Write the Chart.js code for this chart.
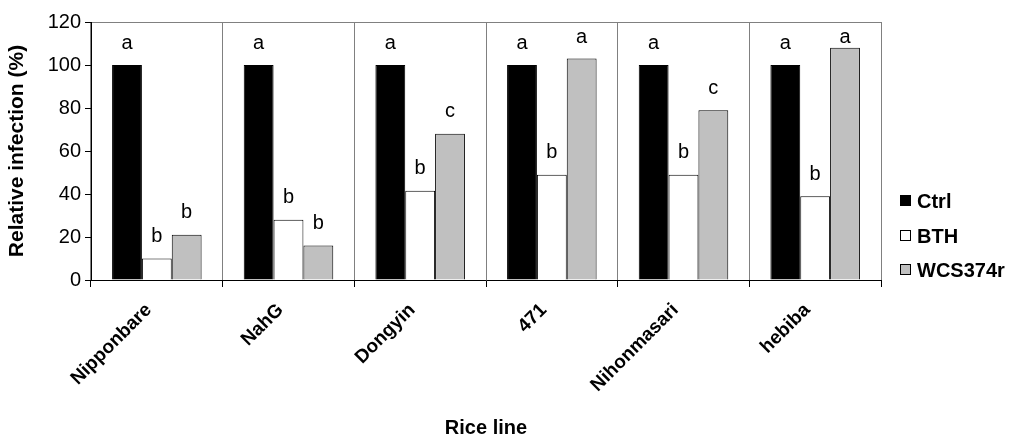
<!DOCTYPE html>
<html>
<head>
<meta charset="utf-8">
<script src="https://cdn.jsdelivr.net/npm/chart.js@4/dist/chart.umd.min.js"></script>
<style>
  html, body { margin: 0; padding: 0; background: #fff; }
  #wrap { width: 1010px; height: 438px; }
</style>
</head>
<body>
<div id="wrap"><canvas id="myChart" width="1010" height="438"></canvas></div>
<script>
// data
const riceLines = ["Nipponbare", "NahG", "Dongyin", "471", "Nihonmasari", "hebiba"];
const ctrl = [100, 100, 100, 100, 100, 100];
const bth = [10, 28, 41.5, 49, 49, 39];
const wcs = [21, 16, 68, 103, 79, 108];
// significance letters above each bar
const ctrlLetters = ["a", "a", "a", "a", "a", "a"];
const bthLetters = ["b", "b", "b", "b", "b", "b"];
const wcsLetters = ["b", "b", "c", "a", "c", "a"];
const yTicks = [0, 20, 40, 60, 80, 100, 120];

const font = "'Liberation Sans', Arial, sans-serif";

// letters over bars
const letterPlugin = {
  id: "letters",
  afterDatasetsDraw(chart) {
    const c = chart.ctx;
    const all = [ctrlLetters, bthLetters, wcsLetters];
    c.save();
    c.font = "20px " + font;
    c.fillStyle = "#000";
    c.textAlign = "center";
    c.textBaseline = "middle";
    all.forEach(function (letters, i) {
      const meta = chart.getDatasetMeta(i);
      meta.data.forEach(function (bar, j) {
        let y = bar.y - 22;
        if (y < 37) y = 37;
        c.fillText(letters[j], bar.x, y);
      });
    });
    c.restore();
  }
};

// legend on the right, drawn by hand
const legendPlugin = {
  id: "sideLegend",
  afterDraw(chart) {
    const c = chart.ctx;
    const ys = [201, 236, 270];
    c.save();
    c.font = "bold 20px " + font;
    c.textBaseline = "middle";
    c.textAlign = "left";
    chart.data.datasets.forEach(function (ds, i) {
      c.fillStyle = ds.backgroundColor;
      c.fillRect(900.5, ys[i] - 5.5, 10, 10);
      c.strokeStyle = "#000";
      c.lineWidth = 1;
      c.strokeRect(900.5, ys[i] - 5.5, 10, 10);
      c.fillStyle = "#000";
      c.fillText(ds.label, 917, ys[i] + 1);
    });
    c.restore();
  }
};

const ctx = document.getElementById("myChart").getContext("2d");
const myChart = new Chart(ctx, {
  type: "bar",
  data: {
    labels: riceLines,
    datasets: [
      { label: "Ctrl", data: ctrl, backgroundColor: "#000000", borderColor: "#000000", borderWidth: 1 },
      { label: "BTH", data: bth, backgroundColor: "#ffffff", borderColor: "#000000", borderWidth: 1 },
      { label: "WCS374r", data: wcs, backgroundColor: "#c0c0c0", borderColor: "#000000", borderWidth: 1 }
    ]
  },
  options: {
    responsive: false,
    animation: false,
    devicePixelRatio: 1,
    layout: { padding: { top: 22, right: 129, left: 0, bottom: 0 } },
    datasets: { bar: { categoryPercentage: 0.68, barPercentage: 1.0 } },
    plugins: {
      legend: { display: false },
      tooltip: { enabled: false }
    },
    scales: {
      x: {
        offset: true,
        grid: { offset: true, color: "#808080", tickColor: "#000", tickLength: 7, drawOnChartArea: true },
        border: { color: "#000", width: 1 },
        ticks: {
          color: "#000",
          font: { family: font, size: 19, weight: "bold" },
          minRotation: 45,
          maxRotation: 45,
          labelOffset: -8,
          padding: 12
        },
        title: {
          display: true,
          text: "Rice line",
          color: "#000",
          font: { family: font, size: 20, weight: "bold" },
          padding: { top: 0, bottom: -2 }
        },
        afterFit(scale) { scale.height = 158; }
      },
      y: {
        min: 0,
        max: 120,
        afterBuildTicks(scale) { scale.ticks = yTicks.map(function (v) { return { value: v }; }); },
        grid: {
          color: function (c) { return c.tick && c.tick.value === 120 ? "#808080" : "rgba(0,0,0,0)"; },
          tickColor: "#000",
          tickLength: 6
        },
        border: { color: "#000", width: 1 },
        ticks: {
          color: "#000",
          font: { family: font, size: 20 },
          padding: 4
        },
        title: {
          display: true,
          text: "Relative infection (%)",
          color: "#000",
          font: { family: font, size: 21, weight: "bold" },
          padding: { top: 5, bottom: 0 }
        },
        afterFit(scale) { scale.width = 91; }
      }
    }
  },
  plugins: [letterPlugin, legendPlugin]
});
</script>
</body>
</html>
